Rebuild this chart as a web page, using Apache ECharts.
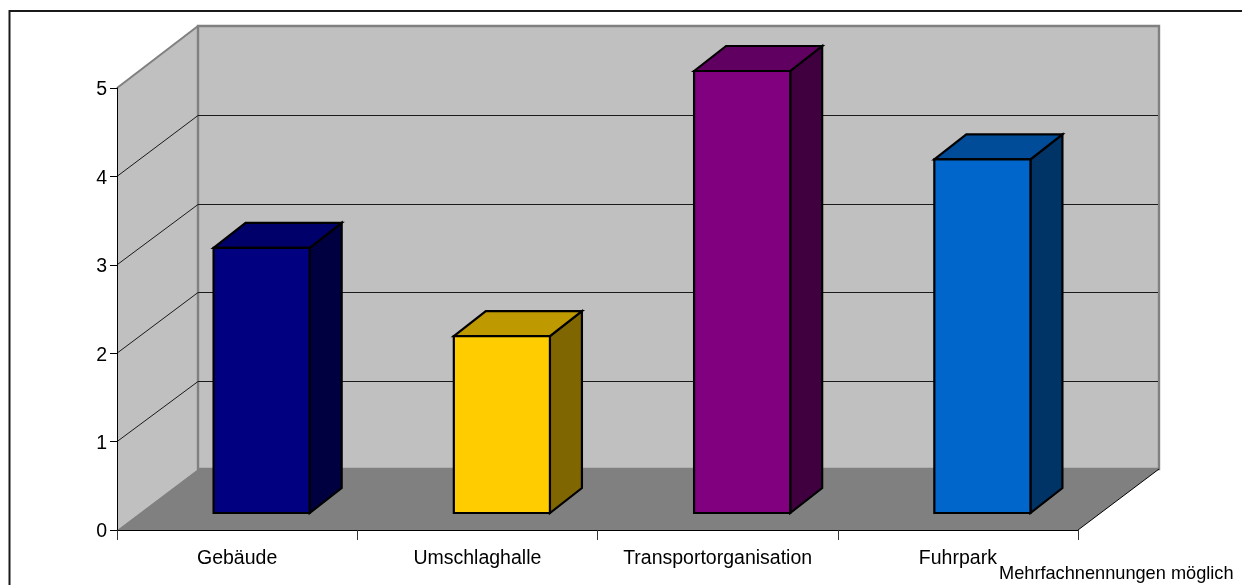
<!DOCTYPE html>
<html>
<head>
<meta charset="utf-8">
<style>
  html, body { margin: 0; padding: 0; background: #fff; }
  #chart { width: 1242px; height: 585px; }
</style>
<script src="https://cdn.jsdelivr.net/npm/echarts@6/dist/echarts.min.js"></script>
</head>
<body>
<div id="chart"></div>
<script>
// Chart data
const categories = ['Gebäude', 'Umschlaghalle', 'Transportorganisation', 'Fuhrpark'];
const counts = [3, 2, 5, 4];
const valueTicks = [0, 1, 2, 3, 4, 5];
const note = 'Mehrfachnennungen möglich';

// Per-bar shading: front face, top face, side face
const faceColors = ['#000080', '#FFCC00', '#800080', '#0066CC'];
const topColors = ['#00006A', '#BF9900', '#600060', '#004C99'];
const sideColors = ['#000040', '#806600', '#400040', '#003366'];

// Oblique projection of the chart box and of the bars inside it
const WALL_DX = 81, WALL_DY = -61;
const BAR_DX = 32, BAR_DY = -25;
const BAR_SHIFT_X = 24.5, BAR_SHIFT_Y = -17;
const BAR_BAND_SHARE = 0.4;

const FONT = '"Liberation Sans", Arial, sans-serif';

function poly(points, fill, stroke, lineWidth) {
  return {
    type: 'polygon',
    shape: { points: points },
    style: { fill: fill, stroke: stroke || null, lineWidth: lineWidth || 0, lineJoin: 'miter' }
  };
}

function seg(a, b, color, width) {
  return {
    type: 'line',
    shape: { x1: a[0], y1: a[1], x2: b[0], y2: b[1] },
    style: { stroke: color, lineWidth: width }
  };
}

// Side wall, back wall and floor
function renderBox(params, api) {
  const r = params.coordSys;
  const l = r.x, t = r.y, b = r.y + r.height, w = r.x + r.width;
  const bl = l + WALL_DX, br = w + WALL_DX;
  const bt = t + WALL_DY - 1, bb = b + WALL_DY;
  return {
    type: 'group',
    children: [
      poly([[l, t], [bl, bt], [bl, bb], [l, b]], '#C0C0C0'),
      poly([[bl, bt], [br, bt], [br, bb], [bl, bb]], '#C0C0C0', '#808080', 2.4),
      seg([l, t], [bl, bt], '#808080', 2),
      poly([[l, b], [bl, bb], [br, bb], [w, b]], '#808080'),
      seg([w, b], [br, bb], '#000000', 1)
    ]
  };
}

// Gridline across the side wall and the back wall for one tick value
function renderGridline(params, api) {
  const v = api.value(0);
  const r = params.coordSys;
  const y = api.coord([0, v])[1];
  if (v === 0 || v === 5) return { type: 'group', children: [] };
  const bl = r.x + WALL_DX, br = r.x + r.width + WALL_DX;
  const by = Math.round(y + WALL_DY) + 0.5;
  return {
    type: 'group',
    children: [
      seg([r.x, y], [bl, by], '#1a1a1a', 1),
      seg([bl, by], [br - 1, by], '#1a1a1a', 1)
    ]
  };
}

// One oblique bar: front, top and side faces
function renderBar(params, api) {
  const i = api.value(0);
  const base = api.coord([i, 0]);
  const top = api.coord([i, api.value(1)]);
  const half = api.size([1, 0])[0] * BAR_BAND_SHARE / 2;
  const x0 = base[0] + BAR_SHIFT_X - half, x1 = base[0] + BAR_SHIFT_X + half;
  const y0 = top[1] + BAR_SHIFT_Y, y1 = base[1] + BAR_SHIFT_Y;
  const s = { stroke: '#000000', width: 2.2 };
  return {
    type: 'group',
    children: [
      poly([[x1, y0], [x1 + BAR_DX, y0 + BAR_DY], [x1 + BAR_DX, y1 + BAR_DY], [x1, y1]], sideColors[i], s.stroke, s.width),
      poly([[x0, y0], [x0 + BAR_DX, y0 + BAR_DY], [x1 + BAR_DX, y0 + BAR_DY], [x1, y0]], topColors[i], s.stroke, s.width),
      poly([[x0, y0], [x1, y0], [x1, y1], [x0, y1]], faceColors[i], s.stroke, s.width)
    ]
  };
}

const chart = echarts.init(document.getElementById('chart'), null, { renderer: 'canvas' });
chart.setOption({
  animation: false,
  backgroundColor: '#ffffff',
  grid: { left: 117, top: 88, width: 961, height: 442, containLabel: false },
  xAxis: {
    type: 'category',
    data: categories,
    z: 20,
    axisLine: { show: true, lineStyle: { color: '#000', width: 1 } },
    axisTick: { show: true, length: 10, alignWithLabel: false, lineStyle: { color: '#333', width: 1 } },
    axisLabel: { show: true, interval: 0, margin: 19, color: '#000', fontFamily: FONT, fontSize: 19.5 },
    splitLine: { show: false }
  },
  yAxis: {
    type: 'value',
    min: 0,
    max: 5,
    interval: 1,
    z: 20,
    axisLine: { show: true, lineStyle: { color: '#000', width: 1 } },
    axisTick: { show: true, length: 7, lineStyle: { color: '#000', width: 1 } },
    axisLabel: {
      show: true, margin: 10, color: '#000',
      formatter: '{n|{value}}',
      rich: { n: { padding: [4, 0, 0, 0], color: '#000', fontFamily: FONT, fontSize: 19.5 } }
    },
    splitLine: { show: false }
  },
  series: [
    { type: 'custom', silent: true, z: 1, renderItem: renderBox, data: [[0]], encode: { x: -1, y: -1 } },
    { type: 'custom', silent: true, z: 2, renderItem: renderGridline, data: valueTicks.map(v => [v]), encode: { y: 0, x: -1 } },
    { type: 'custom', silent: true, z: 3, renderItem: renderBar,
      data: counts.map((v, i) => [i, v]), encode: { x: 0, y: 1 } }
  ],
  graphic: [
    { type: 'rect', z: 30, silent: true, shape: { x: 9.5, y: 11, width: 1300, height: 700 },
      style: { fill: 'none', stroke: '#1a1a1a', lineWidth: 2 } },
    { type: 'text', z: 30, silent: true, x: 999, y: 565,
      style: { text: note, fill: '#000', font: '18.2px ' + FONT } }
  ]
});
</script>
</body>
</html>
